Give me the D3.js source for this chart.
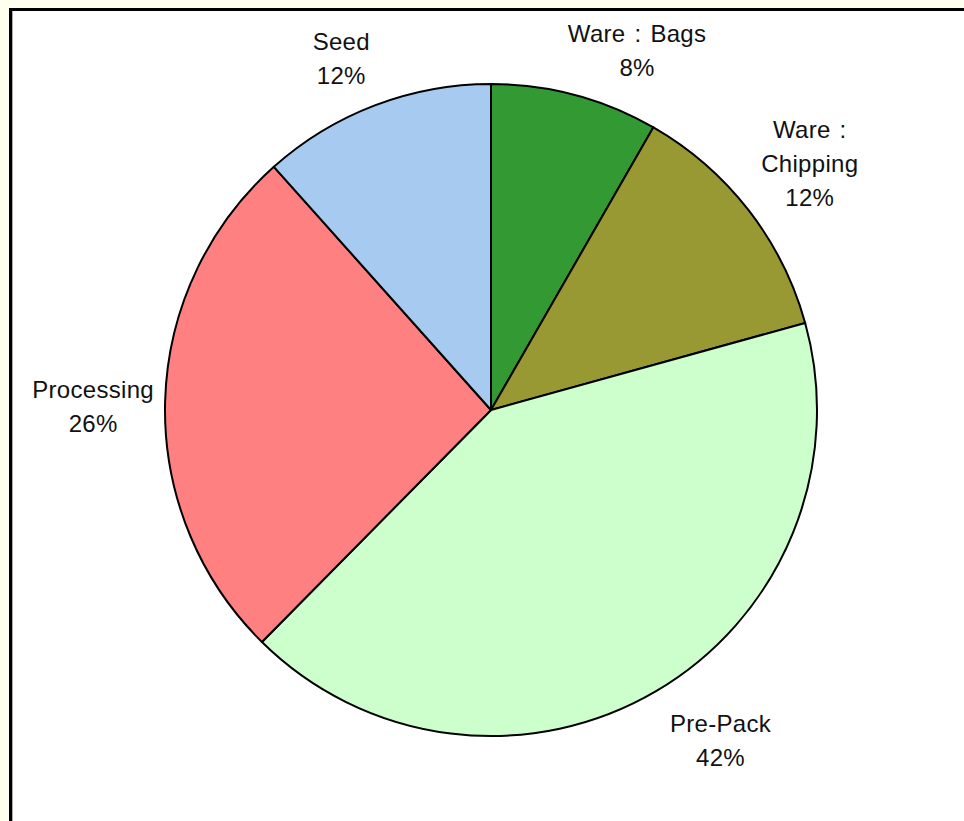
<!DOCTYPE html>
<html>
<head>
<meta charset="utf-8">
<script src="https://cdn.jsdelivr.net/npm/d3@7"></script>
<style>
  html, body { margin: 0; padding: 0; background: #fffff0; }
  #chart { width: 964px; height: 821px; }
  text { font-family: "Liberation Sans", Arial, sans-serif; font-size: 24px; fill: #111; letter-spacing: 0.3px; word-spacing: 2px; }
</style>
</head>
<body>
<div id="chart"></div>
<script>
// data, clockwise from 12 o'clock
const categories = ["Ware : Bags", "Ware : Chipping", "Pre-Pack", "Processing", "Seed"];
const shares = [8.3, 12.4, 41.7, 26.0, 11.6];
const colors = ["#339933", "#999933", "#ccffcc", "#ff8080", "#a6caf0"];

const width = 964;
const height = 821;
const cx = 491, cy = 410, radius = 326;

// small nudges so labels sit where the original placed them
const labelNudge = {
    "Ware : Bags": [45, 19],
    "Ware : Chipping": [9, -6],
    "Pre-Pack": [31, -7],
    "Processing": [-6, 6],
    "Seed": [-10, 15]
};

const data = categories.map((c, i) => ({ name: c, value: shares[i], color: colors[i] }));
const total = d3.sum(shares);

const svg = d3.select("#chart")
    .append("svg")
    .attr("width", width)
    .attr("height", height);

svg.append("rect")
    .attr("width", width)
    .attr("height", height)
    .attr("fill", "#fffff0");

// chart frame
svg.append("rect")
    .attr("x", 10.5)
    .attr("y", 9.5)
    .attr("width", width + 10)
    .attr("height", height + 10)
    .attr("fill", "#fff")
    .attr("stroke", "#000")
    .attr("stroke-width", 3);

svg.append("line")
    .attr("x1", 12.5).attr("x2", 12.5)
    .attr("y1", 11).attr("y2", height)
    .attr("stroke", "#aaa")
    .attr("stroke-width", 1);

const pie = d3.pie()
    .value(d => d.value)
    .sort(null);

const arc = d3.arc()
    .innerRadius(0)
    .outerRadius(radius);

const arcs = pie(data);

const g = svg.append("g")
    .attr("transform", `translate(${cx}, ${cy})`);

g.selectAll("path")
    .data(arcs)
    .join("path")
    .attr("d", arc)
    .attr("fill", d => d.data.color)
    .attr("stroke", "#000")
    .attr("stroke-width", 2)
    .attr("stroke-linejoin", "round");

const labelRadius = 392;
const lineHeight = 34;

const label = g.selectAll("g.label")
    .data(arcs)
    .join("g")
    .attr("class", "label")
    .attr("transform", d => {
        const a = (d.startAngle + d.endAngle) / 2;
        const n = labelNudge[d.data.name] || [0, 0];
        const x = labelRadius * Math.sin(a) + n[0];
        const y = -labelRadius * Math.cos(a) + n[1];
        return `translate(${x}, ${y})`;
    });

label.each(function(d) {
    const name = d.data.name;
    const lines = name.length > 12 ? name.replace(" : ", " :|").split("|") : [name];
    lines.push(Math.round(d.data.value / total * 100) + "%");
    const t = d3.select(this).append("text").attr("text-anchor", "middle");
    const offset = -(lines.length - 1) * lineHeight / 2;
    lines.forEach((l, i) => {
        t.append("tspan")
            .attr("x", 0)
            .attr("y", offset + i * lineHeight)
            .attr("dy", "0.35em")
            .text(l);
    });
});
</script>
</body>
</html>
